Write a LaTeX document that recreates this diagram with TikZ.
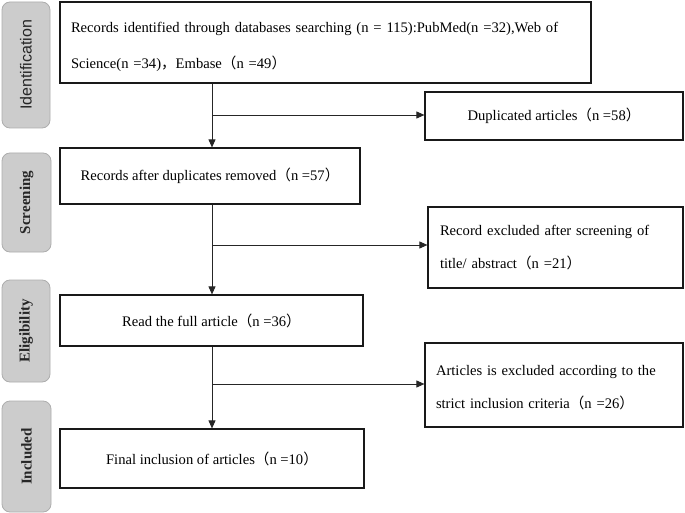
\documentclass[tikz,border=0pt]{standalone}
\usepackage{fontspec}
\setmainfont{Liberation Serif}
\newfontfamily\cjkfont{Noto Sans CJK SC}
\newfontfamily\sidesans{Liberation Sans}
\newcommand{\fwl}{{\cjkfont （}}
\newcommand{\fwr}{{\cjkfont ）}}
\newcommand{\fwc}{{\cjkfont ，}}
\usetikzlibrary{arrows.meta}
\begin{document}
\begin{tikzpicture}[x=1pt,y=-1pt,
  stagebox/.style={draw=black!32,fill=black!20,rounded corners=8pt,line width=0.8pt,inner sep=0pt},
  stagetext/.style={rotate=90,font=\fontsize{15}{18}\selectfont\bfseries,text=black!85},
  mainbox/.style={draw=black!90,line width=1.2pt,inner sep=0pt,font=\fontsize{14.6}{36}\selectfont,align=center},
  sidebox/.style={draw=black!90,line width=1.2pt,inner sep=0pt,font=\fontsize{14.6}{33}\selectfont},
  flow/.style={line width=0.9pt,draw=black!85},
  tip/.style={flow,-{Triangle[length=8pt,width=7pt]}}
]
\useasboundingbox (0,0) rectangle (685,513);
% stage labels
\node[stagebox,minimum width=48pt,minimum height=126pt] (sid) at (26,65) {};
\node[stagetext,font=\sidesans\fontsize{16}{18}\selectfont,text=black!85] (tid) at (sid.center) {Identification};
\node[stagebox,minimum width=49pt,minimum height=99pt] (sscr) at (26.5,202.5) {};
\node[stagetext] (tscr) at (sscr.center) {Screening};
\node[stagebox,minimum width=48pt,minimum height=102pt] (selg) at (26,331) {};
\node[stagetext] (telg) at (selg.center) {Eligibility};
\node[stagebox,minimum width=49pt,minimum height=111pt] (sinc) at (26.5,456.5) {};
\node[stagetext] (tinc) at (sinc.center) {Included};
% main boxes
\node[mainbox,minimum width=531pt,minimum height=81pt,align=left,text width=509pt] (b1) at (325.5,42.5)
  {\rule{0pt}{20pt}Records identified through databases searching (n = 115):PubMed(n =32),Web of\\Science(n =34)\fwc Embase\fwl n =49\fwr};
\node[mainbox,minimum width=300pt,minimum height=56pt] (b2) at (210,176) {Records after duplicates removed\fwl n =57\fwr};
\node[mainbox,minimum width=303pt,minimum height=51pt] (b3) at (211.5,320.5) {Read the full article\fwl n =36\fwr};
\node[mainbox,minimum width=304pt,minimum height=59pt] (b4) at (212,458.5) {Final inclusion of articles\fwl n =10\fwr};
% side boxes
\node[mainbox,minimum width=258pt,minimum height=48pt] (e1) at (554,116) {Duplicated articles\fwl n =58\fwr};
\node[sidebox,minimum width=255pt,minimum height=81pt,align=left,text width=231pt] (e2) at (555.5,247.5)
  {Record excluded after screening of\\title/ abstract\fwl n =21\fwr};
\node[sidebox,minimum width=258pt,minimum height=84pt,align=left,text width=236pt] (e3) at (554,385)
  {\rule{0pt}{16pt}Articles is excluded according to the\\strict inclusion criteria\fwl n =26\fwr};
% junctions
\coordinate (j1) at (212,115);
\coordinate (j2) at (212,245);
\coordinate (j3) at (212,384);
% connectors
\draw[tip] (j1 |- b1.south) -- (j1 |- b2.north);
\draw[tip] (j1) -- (j1 -| e1.west);
\draw[tip] (j2 |- b2.south) -- (j2 |- b3.north);
\draw[tip] (j2) -- (j2 -| e2.west);
\draw[tip] (j3 |- b3.south) -- (j3 |- b4.north);
\draw[tip] (j3) -- (j3 -| e3.west);
\end{tikzpicture}
\end{document}
